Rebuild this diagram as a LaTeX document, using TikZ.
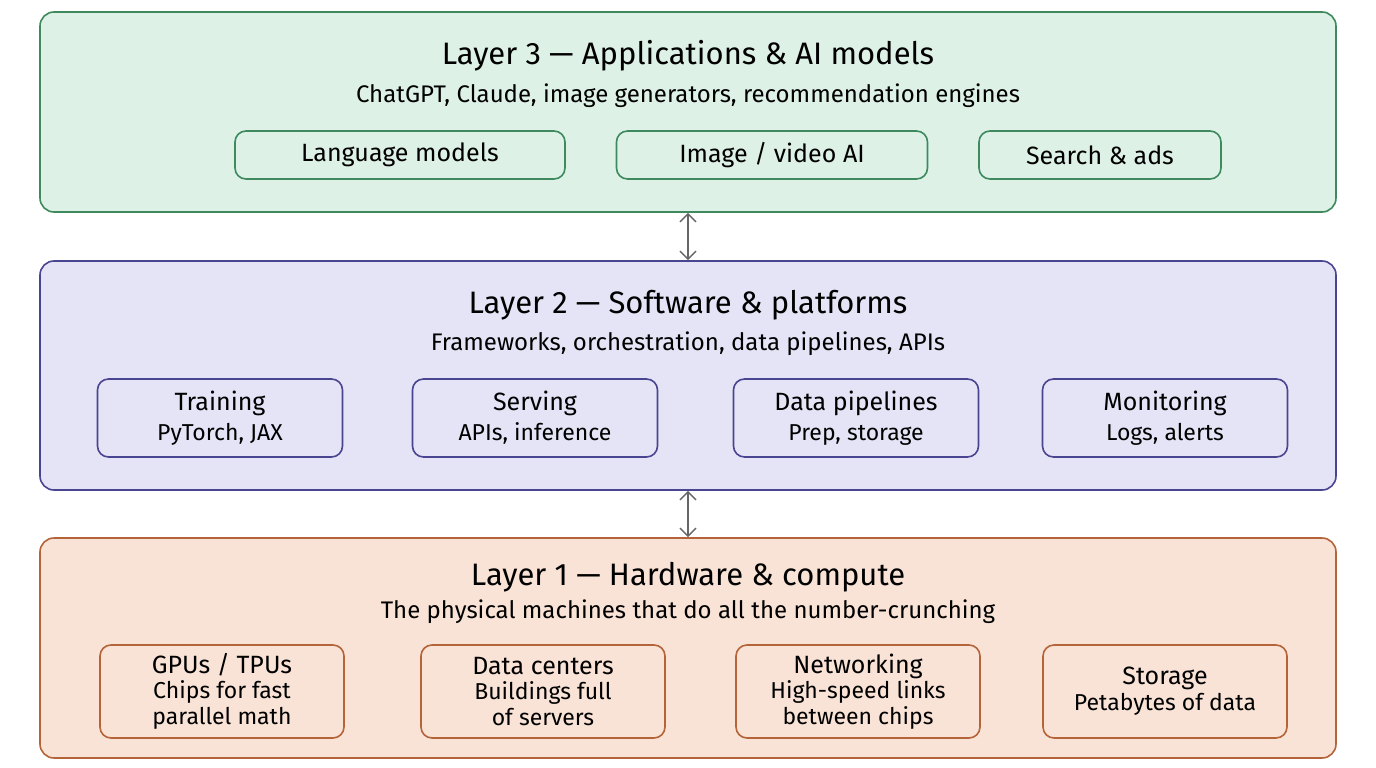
\documentclass[tikz,border=0pt]{standalone}
\usepackage{fontspec}
\setmainfont{Fira Sans}
\usetikzlibrary{arrows.meta}
\begin{document}
\begin{tikzpicture}[x=1pt,y=-1pt,
 layer/.style={draw=#1,line width=1.6pt,rounded corners=14pt,inner sep=0pt},
 item/.style={draw=#1,line width=1.6pt,rounded corners=11pt,inner sep=0pt,align=center,font=\fontsize{25}{28}\selectfont},
 ttl/.style={font=\fontsize{31}{34}\selectfont},
 sub/.style={font=\fontsize{24}{27}\selectfont},
 link/.style={{Straight Barb[length=8pt,width=16pt]}-{Straight Barb[length=8pt,width=16pt]},draw=black!60,line width=1.5pt}]
\useasboundingbox (0,0) rectangle (1376,768);
\definecolor{gF}{HTML}{DDF1E6}\definecolor{gD}{HTML}{3E8A5E}
\definecolor{pF}{HTML}{E5E4F7}\definecolor{pD}{HTML}{4A4590}
\definecolor{oF}{HTML}{F9E3D6}\definecolor{oD}{HTML}{B5643A}
\newcommand{\sm}[1]{{\fontsize{23}{25}\selectfont #1}}
% layer 3
\node[layer=gD,fill=gF,minimum width=1296pt,minimum height=200pt] (L3) at (688,112) {};
\node[ttl] (t3) at (688,56) {Layer 3 — Applications \& AI models};
\node[sub] (s3) at (688,96) {ChatGPT, Claude, image generators, recommendation engines};
\node[item=gD,minimum width=330pt,minimum height=48pt] (a1) at (400,155) {Language models};
\node[item=gD,minimum width=311pt,minimum height=48pt] (a2) at (772,155) {Image / video AI};
\node[item=gD,minimum width=242pt,minimum height=48pt] (a3) at (1100,155) {Search \& ads};
% layer 2
\node[layer=pD,fill=pF,minimum width=1296pt,minimum height=229pt] (L2) at (688,375.5) {};
\node[ttl] (t2) at (688,305) {Layer 2 — Software \& platforms};
\node[sub] (s2) at (688,344) {Frameworks, orchestration, data pipelines, APIs};
\foreach \n/\x/\a/\b in {b1/220/Training/{PyTorch, JAX},b2/535/Serving/{APIs, inference},b3/856/Data pipelines/{Prep, storage},b4/1165/Monitoring/{Logs, alerts}}
 \node[item=pD,minimum width=245pt,minimum height=78pt] (\n) at (\x,418) {\a\\[2pt]\sm{\b}};
% layer 1
\node[layer=oD,fill=oF,minimum width=1296pt,minimum height=220pt] (L1) at (688,648) {};
\node[ttl] (t1) at (688,577) {Layer 1 — Hardware \& compute};
\node[sub] (s1) at (688,612) {The physical machines that do all the number-crunching};
\node[item=oD,minimum width=244pt,minimum height=93pt] (c1) at (222,691.5) {GPUs / TPUs\\[-3pt]\sm{Chips for fast}\\[-2pt]\sm{parallel math}};
\node[item=oD,minimum width=244pt,minimum height=93pt] (c2) at (543,691.5) {Data centers\\[-3pt]\sm{Buildings full}\\[-2pt]\sm{of servers}};
\node[item=oD,minimum width=244pt,minimum height=93pt] (c3) at (858,691.5) {Networking\\[-3pt]\sm{High-speed links}\\[-2pt]\sm{between chips}};
\node[item=oD,minimum width=244pt,minimum height=93pt] (c4) at (1165,691.5) {Storage\\[-2pt]\sm{Petabytes of data}};
\draw[link] (L3.south -| 688,0) -- (L2.north -| 688,0);
\draw[link] (L2.south -| 688,0) -- (L1.north -| 688,0);
\end{tikzpicture}
\end{document}
